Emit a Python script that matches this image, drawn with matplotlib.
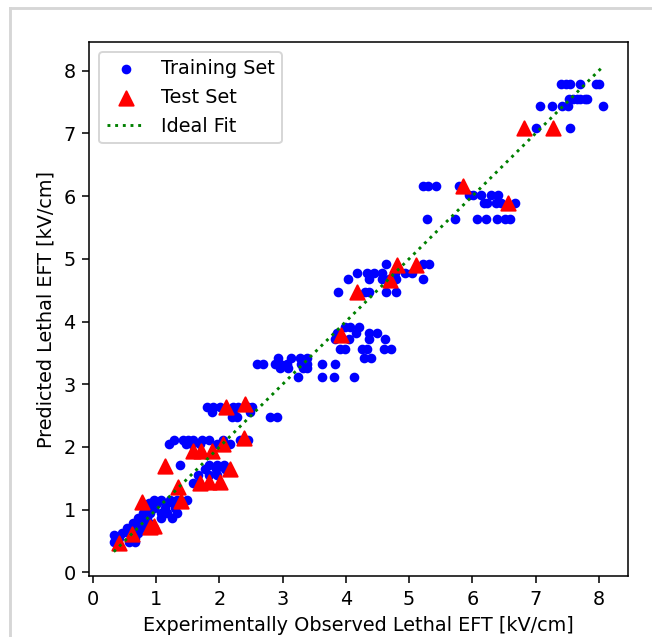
import matplotlib
matplotlib.use("Agg")
import matplotlib.pyplot as plt
from matplotlib.lines import Line2D

# Training set: experimentally observed vs predicted lethal EFT [kV/cm]
train_obs = [7.40, 7.48, 7.55, 7.71, 7.95, 8.01,
             7.53, 7.59, 7.65, 7.71, 7.78, 7.81,
             7.07, 7.26, 7.42, 7.51, 8.07,
             7.00, 7.55,
             5.22, 5.30, 5.42, 5.79,
             5.95, 6.01, 6.14, 6.29, 6.41,
             6.18, 6.23, 6.38, 6.46, 6.67,
             5.28, 5.73, 6.07, 6.22, 6.39, 6.51, 6.59,
             4.64, 5.22, 5.31,
             4.18, 4.34, 4.45, 4.57, 4.78, 4.93, 5.04,
             4.04, 4.37, 4.57, 4.69, 4.80, 5.22,
             3.87, 4.30, 4.37, 4.63, 4.80,
             3.99, 4.06, 4.21,
             3.86, 4.16, 4.37, 4.50,
             3.83, 4.05, 4.37, 4.62,
             3.90, 3.99, 4.25, 4.33, 4.61, 4.72,
             2.92, 3.13, 3.28, 3.39, 4.29, 4.39,
             2.60, 2.69, 2.88, 2.96, 3.07, 3.29, 3.39, 3.63, 3.83,
             2.96, 3.08, 3.33, 3.38,
             3.24, 3.63, 3.81, 4.13,
             1.80, 1.90, 2.01, 2.22, 2.30, 2.46, 2.51,
             1.88, 2.22, 2.49,
             2.20, 2.28, 2.80, 2.91,
             1.28, 1.43, 1.51, 1.59, 1.72, 1.83, 2.06, 2.32, 2.46,
             1.20, 1.48, 1.57, 1.70, 1.96, 2.17,
             1.38, 1.83, 1.96, 2.07,
             1.78, 1.94, 2.09,
             1.66, 1.84, 1.97,
             1.59, 1.67,
             0.96, 1.07, 1.22, 1.33, 1.49,
             0.88, 1.01, 1.17, 1.28,
             0.83, 0.96, 1.14, 1.30,
             0.80, 0.91, 1.07, 1.17, 1.33,
             0.72, 0.86, 1.07, 1.25,
             0.64, 0.78, 0.88,
             0.54, 0.70, 0.83, 0.96,
             0.46, 0.57, 0.72,
             0.33,
             0.41, 0.67,
             0.33, 0.57, 0.67]

train_pred = [7.78, 7.78, 7.78, 7.78, 7.78, 7.78,
              7.55, 7.55, 7.55, 7.55, 7.55, 7.55,
              7.43, 7.43, 7.43, 7.43, 7.43,
              7.08, 7.08,
              6.16, 6.16, 6.16, 6.16,
              6.01, 6.01, 6.01, 6.01, 6.01,
              5.89, 5.89, 5.89, 5.89, 5.89,
              5.63, 5.63, 5.63, 5.63, 5.63, 5.63, 5.63,
              4.91, 4.91, 4.91,
              4.77, 4.77, 4.77, 4.77, 4.77, 4.77, 4.77,
              4.68, 4.68, 4.68, 4.68, 4.68, 4.68,
              4.47, 4.47, 4.47, 4.47, 4.47,
              3.91, 3.91, 3.91,
              3.81, 3.81, 3.81, 3.81,
              3.72, 3.72, 3.72, 3.72,
              3.56, 3.56, 3.56, 3.56, 3.56, 3.56,
              3.42, 3.42, 3.42, 3.42, 3.42, 3.42,
              3.32, 3.32, 3.32, 3.32, 3.32, 3.32, 3.32, 3.32, 3.32,
              3.26, 3.26, 3.26, 3.26,
              3.12, 3.12, 3.12, 3.12,
              2.64, 2.64, 2.64, 2.64, 2.64, 2.64, 2.64,
              2.56, 2.56, 2.56,
              2.48, 2.48, 2.48, 2.48,
              2.11, 2.11, 2.11, 2.11, 2.11, 2.11, 2.11, 2.11, 2.11,
              2.04, 2.04, 2.04, 2.04, 2.04, 2.04,
              1.72, 1.72, 1.72, 1.72,
              1.65, 1.65, 1.65,
              1.56, 1.56, 1.56,
              1.43, 1.43,
              1.16, 1.16, 1.16, 1.16, 1.16,
              1.10, 1.10, 1.10, 1.10,
              1.03, 1.03, 1.03, 1.03,
              0.95, 0.95, 0.95, 0.95, 0.95,
              0.87, 0.87, 0.87, 0.87,
              0.79, 0.79, 0.79,
              0.71, 0.71, 0.71, 0.71,
              0.63, 0.63, 0.63,
              0.60,
              0.55, 0.55,
              0.48, 0.48, 0.48]

# Test set
test_obs = [0.42, 0.62, 0.90, 0.97, 0.78, 1.40, 1.34, 1.14, 1.70, 1.83,
            2.01, 2.17, 1.58, 1.71, 1.89, 2.06, 2.39, 2.11, 2.40, 3.93,
            4.17, 4.70, 4.81, 5.11, 5.86, 6.56, 6.81, 7.28]
test_pred = [0.47, 0.61, 0.72, 0.74, 1.12, 1.14, 1.36, 1.69, 1.42, 1.44,
             1.44, 1.65, 1.94, 1.94, 1.94, 2.04, 2.14, 2.63, 2.68, 3.78,
             4.47, 4.67, 4.90, 4.90, 6.16, 5.89, 7.08, 7.08]

# Ideal fit line range
ideal_range = [0.33, 8.07]

DPI = 139
W, H = 652, 637
fig = plt.figure(figsize=(W / DPI, H / DPI), dpi=DPI)
ax = fig.add_axes([89.3 / W, 1 - 576 / H, (627.7 - 89.3) / W, (576 - 42) / H])

ax.scatter(train_obs, train_pred, s=16, color="blue", label="Training Set", zorder=2)
ax.scatter(test_obs, test_pred, s=55, color="red", marker="^", label="Test Set", zorder=3)
ax.plot(ideal_range, ideal_range, linestyle=":", color="green", linewidth=1.5,
        label="Ideal Fit", zorder=4)

ax.set_xlim(-0.057, 8.457)
ax.set_ylim(-0.057, 8.457)
ax.set_xticks(range(0, 9))
ax.set_yticks(range(0, 9))
ax.set_xlabel("Experimentally Observed Lethal EFT [kV/cm]")
ax.set_ylabel("Predicted Lethal EFT [kV/cm]")
ax.legend(loc="upper left")

# light frame of the screenshot
fig.add_artist(Line2D([10 / W, 10 / W], [0, 1 - 8 / H], transform=fig.transFigure,
                      color="#d6d6d6", linewidth=1.5))
fig.add_artist(Line2D([10 / W, 1], [1 - 8 / H, 1 - 8 / H], transform=fig.transFigure,
                      color="#d6d6d6", linewidth=1.5))

fig.savefig("out.png", dpi=DPI)
